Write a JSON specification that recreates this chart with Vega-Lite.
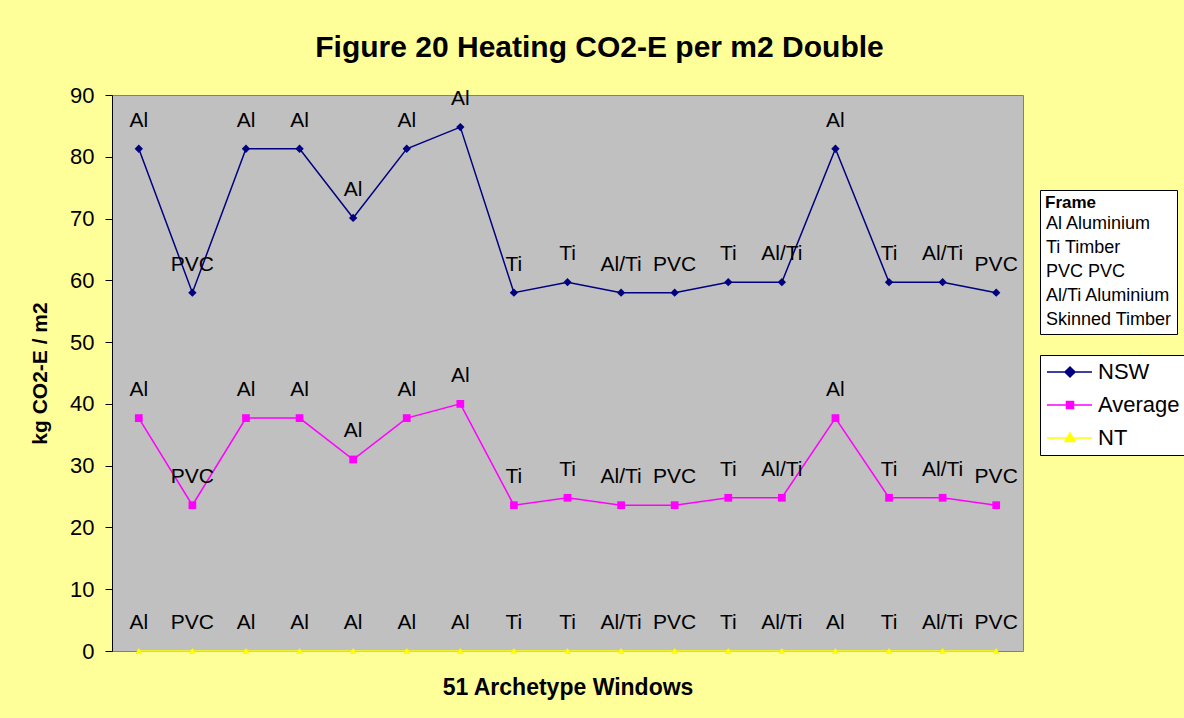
{
  "$schema": "https://vega.github.io/schema/vega-lite/v6.json",
  "autosize": {"type": "none"},
  "padding": {"left": 112, "top": 95, "right": 161, "bottom": 67},
  "width": 911,
  "height": 556,
  "background": "#FFFF99",
  "view": {"fill": "#C0C0C0", "stroke": "#808080", "strokeWidth": 1},
  "config": {
    "font": "Liberation Sans",
    "view": {"fill": "#C0C0C0", "stroke": "#808080", "strokeWidth": 1}
  },
  "title": {
    "text": "Figure 20 Heating CO2-E per m2 Double",
    "fontSize": 30,
    "fontWeight": "bold",
    "font": "Liberation Sans",
    "color": "#000000",
    "anchor": "middle",
    "frame": "group",
    "baseline": "alphabetic",
    "offset": -3,
    "dx": 32
  },
  "datasets": {
    "main": [
      {"i": 1, "frame": "Al", "series": "NSW", "value": 81.3},
      {"i": 2, "frame": "PVC", "series": "NSW", "value": 58.0},
      {"i": 3, "frame": "Al", "series": "NSW", "value": 81.3},
      {"i": 4, "frame": "Al", "series": "NSW", "value": 81.3},
      {"i": 5, "frame": "Al", "series": "NSW", "value": 70.1},
      {"i": 6, "frame": "Al", "series": "NSW", "value": 81.3},
      {"i": 7, "frame": "Al", "series": "NSW", "value": 84.8},
      {"i": 8, "frame": "Ti", "series": "NSW", "value": 58.0},
      {"i": 9, "frame": "Ti", "series": "NSW", "value": 59.7},
      {"i": 10, "frame": "Al/Ti", "series": "NSW", "value": 58.0},
      {"i": 11, "frame": "PVC", "series": "NSW", "value": 58.0},
      {"i": 12, "frame": "Ti", "series": "NSW", "value": 59.7},
      {"i": 13, "frame": "Al/Ti", "series": "NSW", "value": 59.7},
      {"i": 14, "frame": "Al", "series": "NSW", "value": 81.3},
      {"i": 15, "frame": "Ti", "series": "NSW", "value": 59.7},
      {"i": 16, "frame": "Al/Ti", "series": "NSW", "value": 59.7},
      {"i": 17, "frame": "PVC", "series": "NSW", "value": 58.0},
      {"i": 1, "frame": "Al", "series": "Average", "value": 37.7},
      {"i": 2, "frame": "PVC", "series": "Average", "value": 23.6},
      {"i": 3, "frame": "Al", "series": "Average", "value": 37.7},
      {"i": 4, "frame": "Al", "series": "Average", "value": 37.7},
      {"i": 5, "frame": "Al", "series": "Average", "value": 31.0},
      {"i": 6, "frame": "Al", "series": "Average", "value": 37.7},
      {"i": 7, "frame": "Al", "series": "Average", "value": 40.0},
      {"i": 8, "frame": "Ti", "series": "Average", "value": 23.6},
      {"i": 9, "frame": "Ti", "series": "Average", "value": 24.8},
      {"i": 10, "frame": "Al/Ti", "series": "Average", "value": 23.6},
      {"i": 11, "frame": "PVC", "series": "Average", "value": 23.6},
      {"i": 12, "frame": "Ti", "series": "Average", "value": 24.8},
      {"i": 13, "frame": "Al/Ti", "series": "Average", "value": 24.8},
      {"i": 14, "frame": "Al", "series": "Average", "value": 37.7},
      {"i": 15, "frame": "Ti", "series": "Average", "value": 24.8},
      {"i": 16, "frame": "Al/Ti", "series": "Average", "value": 24.8},
      {"i": 17, "frame": "PVC", "series": "Average", "value": 23.6},
      {"i": 1, "frame": "Al", "series": "NT", "value": 0},
      {"i": 2, "frame": "PVC", "series": "NT", "value": 0},
      {"i": 3, "frame": "Al", "series": "NT", "value": 0},
      {"i": 4, "frame": "Al", "series": "NT", "value": 0},
      {"i": 5, "frame": "Al", "series": "NT", "value": 0},
      {"i": 6, "frame": "Al", "series": "NT", "value": 0},
      {"i": 7, "frame": "Al", "series": "NT", "value": 0},
      {"i": 8, "frame": "Ti", "series": "NT", "value": 0},
      {"i": 9, "frame": "Ti", "series": "NT", "value": 0},
      {"i": 10, "frame": "Al/Ti", "series": "NT", "value": 0},
      {"i": 11, "frame": "PVC", "series": "NT", "value": 0},
      {"i": 12, "frame": "Ti", "series": "NT", "value": 0},
      {"i": 13, "frame": "Al/Ti", "series": "NT", "value": 0},
      {"i": 14, "frame": "Al", "series": "NT", "value": 0},
      {"i": 15, "frame": "Ti", "series": "NT", "value": 0},
      {"i": 16, "frame": "Al/Ti", "series": "NT", "value": 0},
      {"i": 17, "frame": "PVC", "series": "NT", "value": 0}
    ],
    "frames": [
      {"Frame": "Al Aluminium"},
      {"Frame": "Ti Timber"},
      {"Frame": "PVC PVC"},
      {"Frame": "Al/Ti Aluminium"},
      {"Frame": "Skinned Timber"}
    ],
    "seriesKeys": [
      {"Series": "NSW"},
      {"Series": "Average"},
      {"Series": "NT"}
    ]
  },
  "layer": [
    {
      "data": {"name": "main"},
      "mark": {"type": "line", "strokeWidth": 1.5},
      "encoding": {
        "x": {
          "field": "i", "type": "ordinal",
          "scale": {"type": "point", "padding": 0.5},
          "axis": {
            "labels": false, "ticks": false, "domain": false, "grid": false,
            "title": "51 Archetype Windows",
            "titleFontSize": 23, "titleFontWeight": "bold", "titleColor": "#000000",
            "titlePadding": 25
          }
        },
        "y": {
          "field": "value", "type": "quantitative",
          "scale": {"domain": [0, 90], "nice": false},
          "axis": {
            "values": [0, 10, 20, 30, 40, 50, 60, 70, 80, 90],
            "grid": false,
            "domainColor": "#000000", "domainWidth": 1,
            "tickColor": "#000000", "tickSize": 7,
            "labelFontSize": 22, "labelColor": "#000000", "labelPadding": 11,
            "title": "kg CO2-E / m2",
            "titleFontSize": 21, "titleFontWeight": "bold", "titleColor": "#000000",
            "titleX": -72, "titleBaseline": "middle"
          }
        },
        "color": {
          "field": "series", "type": "nominal",
          "scale": {"domain": ["NSW", "Average", "NT"], "range": ["#000080", "#FF00FF", "#FFFF00"]},
          "legend": null
        },
        "detail": {"field": "series"}
      }
    },
    {
      "data": {"name": "main"},
      "mark": {"type": "point", "filled": true, "opacity": 1},
      "encoding": {
        "x": {"field": "i", "type": "ordinal", "scale": {"type": "point", "padding": 0.5}},
        "y": {"field": "value", "type": "quantitative"},
        "color": {
          "field": "series", "type": "nominal",
          "scale": {"domain": ["NSW", "Average", "NT"], "range": ["#000080", "#FF00FF", "#FFFF00"]},
          "legend": null
        },
        "shape": {
          "field": "series", "type": "nominal",
          "scale": {"domain": ["NSW", "Average", "NT"], "range": ["diamond", "square", "triangle-up"]},
          "legend": null
        },
        "size": {
          "field": "series", "type": "ordinal",
          "scale": {"domain": ["NSW", "Average", "NT"], "range": [70, 50, 110]},
          "legend": null
        }
      }
    },
    {
      "data": {"name": "main"},
      "mark": {"type": "text", "dy": -28, "fontSize": 21, "baseline": "middle", "align": "center", "font": "Liberation Sans"},
      "encoding": {
        "x": {"field": "i", "type": "ordinal", "scale": {"type": "point", "padding": 0.5}},
        "y": {"field": "value", "type": "quantitative"},
        "text": {"field": "frame"},
        "color": {"value": "#000000"}
      }
    },
    {
      "data": {"name": "frames"},
      "mark": {"type": "point"},
      "encoding": {
        "opacity": {"value": 0},
        "color": {
          "field": "Frame", "type": "nominal",
          "scale": {"domain": ["Al Aluminium", "Ti Timber", "PVC PVC", "Al/Ti Aluminium", "Skinned Timber"], "range": ["#000000", "#000000", "#000000", "#000000", "#000000"]},
          "legend": {
            "orient": "none", "legendX": 928, "legendY": 95,
            "title": "Frame", "titleFontSize": 17, "titleFontWeight": "bold", "titleColor": "#000000",
            "titlePadding": 3,
            "labelFontSize": 18, "labelColor": "#000000", "labelOffset": -17, "labelLimit": 300,
            "symbolSize": 0, "symbolOpacity": 0, "symbolStrokeWidth": 0,
            "fillColor": "#FFFFFF", "strokeColor": "#000000",
            "padding": 5, "rowPadding": 6
          }
        }
      }
    },
    {
      "data": {"name": "seriesKeys"},
      "mark": {"type": "point"},
      "encoding": {
        "opacity": {"value": 0},
        "fill": {
          "field": "Series", "type": "nominal",
          "scale": {"domain": ["NSW", "Average", "NT"], "range": ["#000080", "#FF00FF", "#FFFF00"]},
          "legend": {
            "orient": "none", "legendX": 928, "legendY": 260, "title": null,
            "labelFontSize": 22, "labelColor": "#000000", "labelOffset": 30,
            "symbolSize": 400, "symbolOpacity": 1, "symbolStrokeWidth": 1.5,
            "fillColor": "#FFFFFF", "strokeColor": "#000000",
            "padding": 6, "rowPadding": 11
          }
        },
        "stroke": {
          "field": "Series", "type": "nominal",
          "scale": {"domain": ["NSW", "Average", "NT"], "range": ["#000080", "#FF00FF", "#FFFF00"]},
          "legend": {
            "orient": "none", "legendX": 928, "legendY": 260, "title": null,
            "labelFontSize": 22, "labelColor": "#000000", "labelOffset": 30,
            "symbolSize": 400, "symbolOpacity": 1, "symbolStrokeWidth": 1.5,
            "fillColor": "#FFFFFF", "strokeColor": "#000000",
            "padding": 6, "rowPadding": 11
          }
        },
        "shape": {
          "field": "Series", "type": "nominal",
          "scale": {"domain": ["NSW", "Average", "NT"], "range": [
            "M-1,0H3.5M1.3,-0.5L1.8,0L1.3,0.5L0.8,0Z",
            "M-1,0H3.5M0.95,-0.35H1.65V0.35H0.95Z",
            "M-1,0H3.5M1.3,-0.5L1.8,0.35H0.8Z"
          ]},
          "legend": {
            "orient": "none", "legendX": 928, "legendY": 260, "title": null,
            "labelFontSize": 22, "labelColor": "#000000", "labelOffset": 30,
            "symbolSize": 400, "symbolOpacity": 1, "symbolStrokeWidth": 1.5,
            "fillColor": "#FFFFFF", "strokeColor": "#000000",
            "padding": 6, "rowPadding": 11
          }
        }
      }
    }
  ],
  "resolve": {
    "scale": {"color": "independent", "fill": "independent", "stroke": "independent", "shape": "independent", "size": "independent"},
    "legend": {"color": "independent", "fill": "independent", "stroke": "independent", "shape": "independent", "size": "independent"}
  }
}
